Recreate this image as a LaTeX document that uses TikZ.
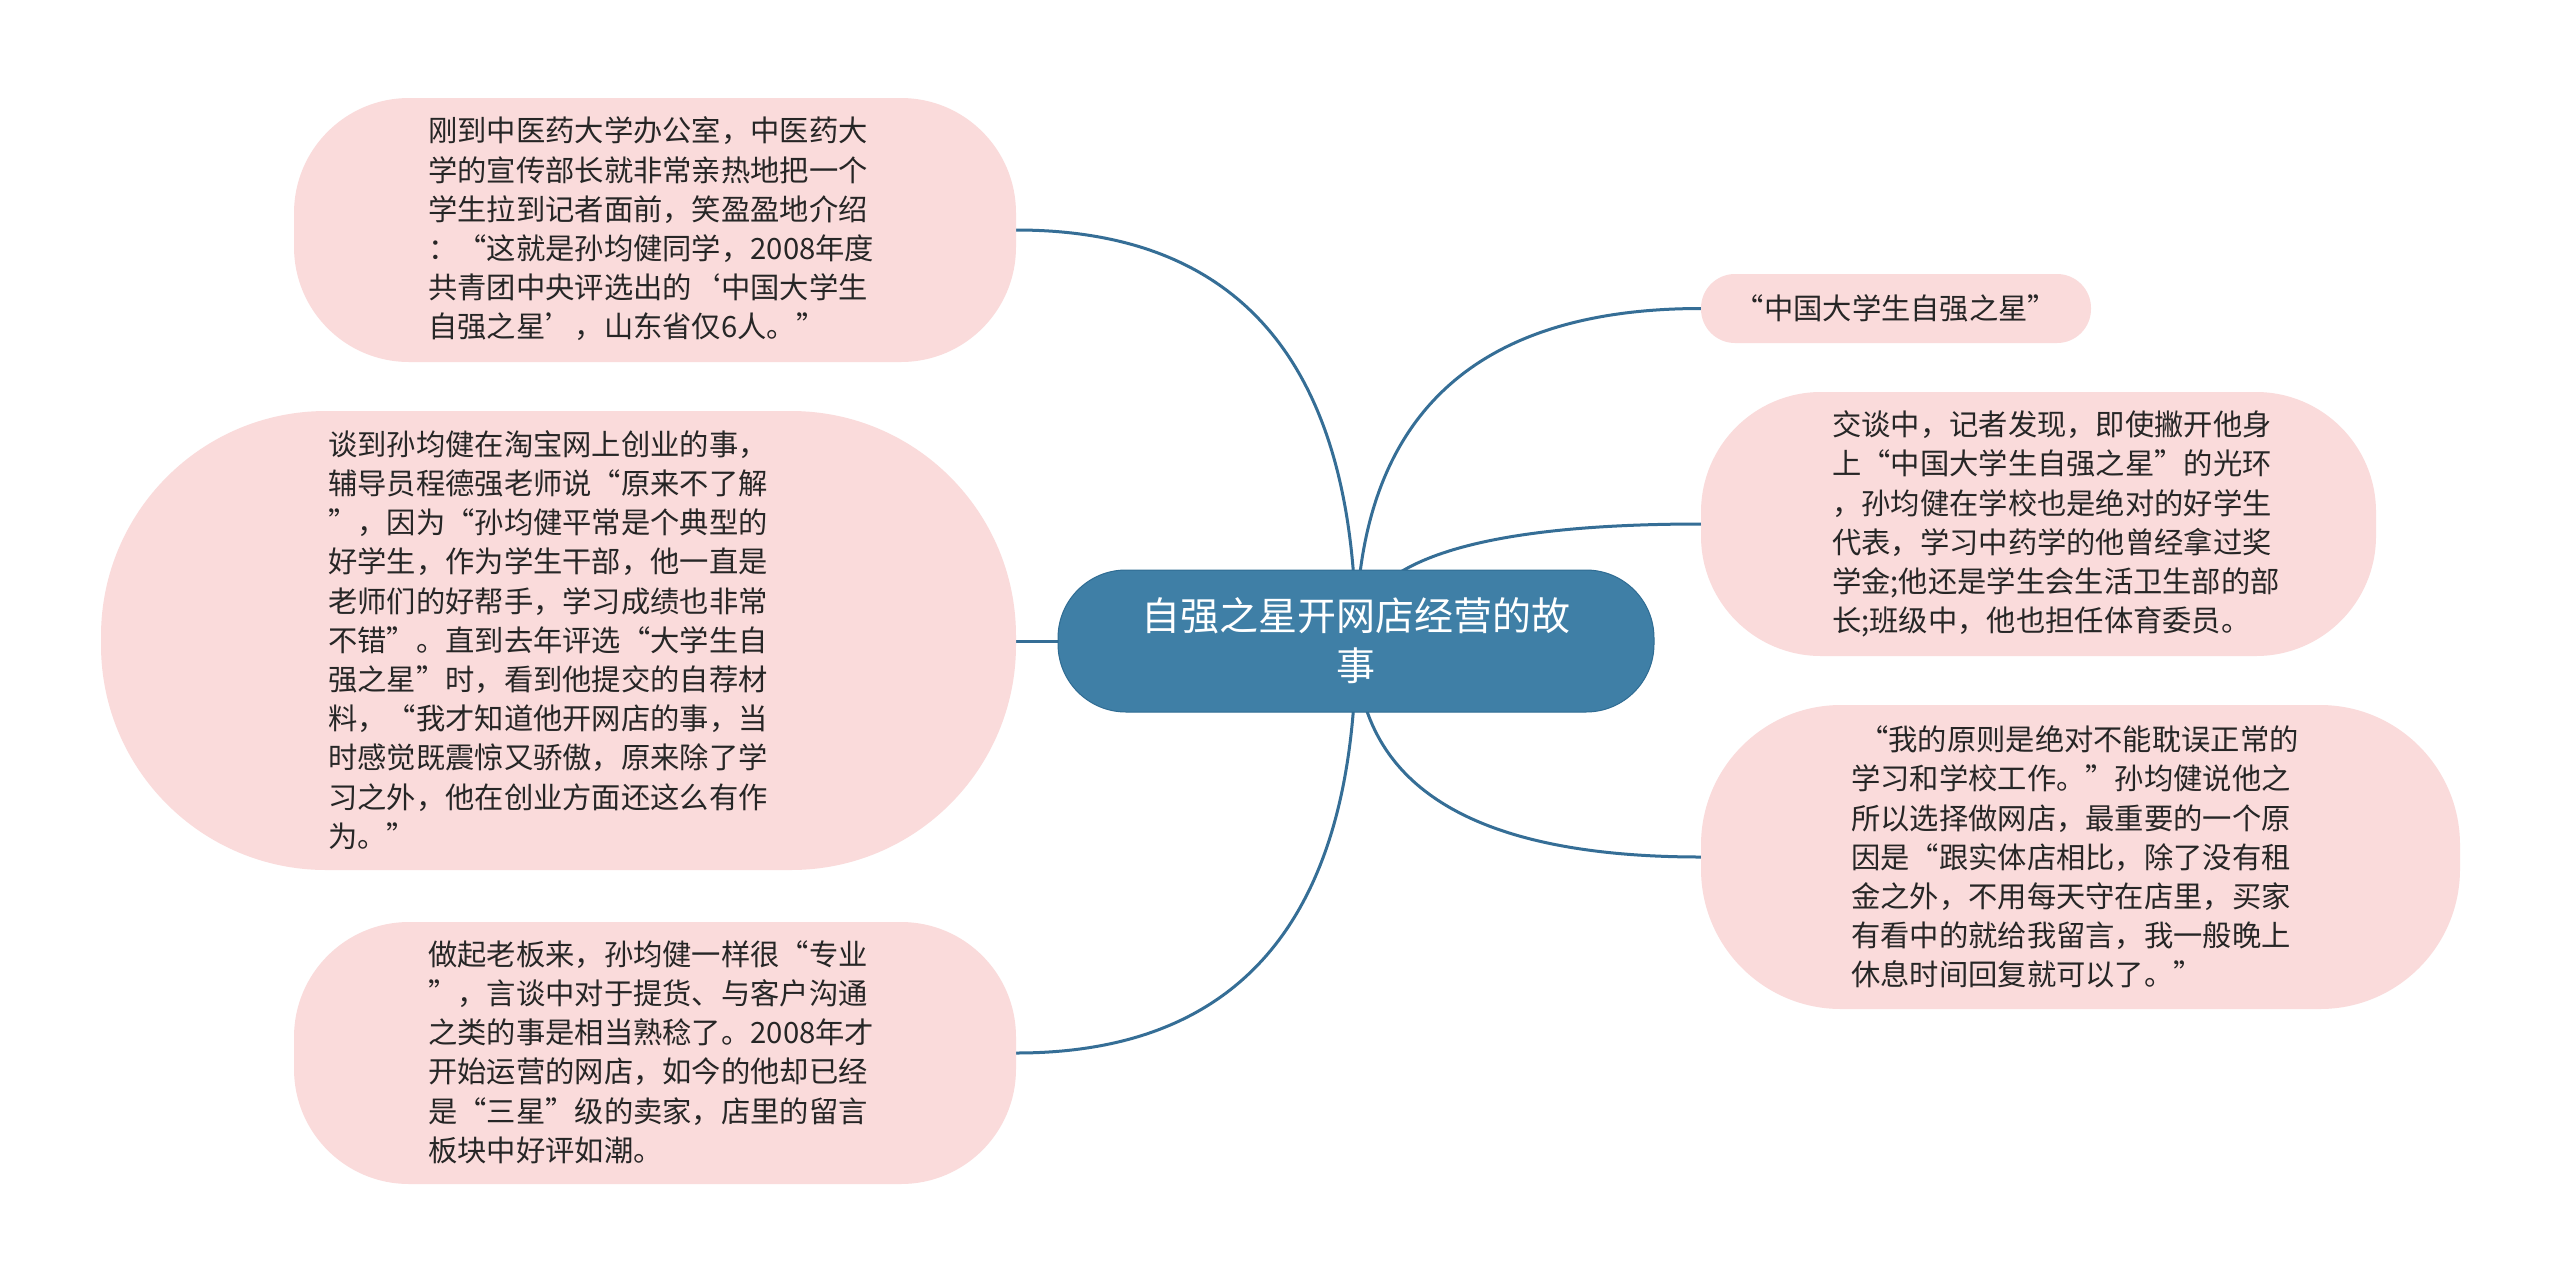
\documentclass[tikz,border=0pt]{standalone}
\usepackage{fontspec}
\newfontfamily\cjk{Noto Sans CJK SC}
\usetikzlibrary{calc}
\pgfdeclarelayer{bg}
\pgfdeclarelayer{paper}
\pgfsetlayers{paper,bg,main}
\definecolor{pinkfill}{HTML}{FADBDB}
\definecolor{centerfill}{HTML}{3F7FA6}
\definecolor{centerline}{HTML}{2F6C93}
\definecolor{connline}{HTML}{356E96}
\definecolor{txt}{HTML}{262626}
\begin{document}
\begin{tikzpicture}[x=1pt,y=-1pt,
  pinkbox/.style={fill=pinkfill, draw=none, inner sep=0pt},
  bodytext/.style={font=\cjk\fontsize{29.3pt}{39.2pt}\selectfont, text=txt, align=left, inner sep=0pt, anchor=west},
  conn/.style={draw=connline, line width=3pt},
]
\begin{pgfonlayer}{paper}
\fill[white] (0,0) rectangle (2560,1283);
\end{pgfonlayer}
\useasboundingbox (0,0) rectangle (2560,1283);

% left boxes
\node[pinkbox, rounded corners=115pt, minimum width=722pt, minimum height=264pt] (b1) at (655,230) {};
\node[bodytext] (t1) at (428,229) {刚到中医药大学办公室，中医药大\\学的宣传部长就非常亲热地把一个\\学生拉到记者面前，笑盈盈地介绍\\：“这就是孙均健同学，2008年度\\共青团中央评选出的‘中国大学生\\自强之星’，山东省仅6人。”};

\node[pinkbox, rounded corners=225pt, minimum width=915pt, minimum height=459pt] (b2) at (558.5,640.5) {};
\node[bodytext] (t2) at (328,640) {谈到孙均健在淘宝网上创业的事，\\辅导员程德强老师说“原来不了解\\”，因为“孙均健平常是个典型的\\好学生，作为学生干部，他一直是\\老师们的好帮手，学习成绩也非常\\不错”。直到去年评选“大学生自\\强之星”时，看到他提交的自荐材\\料，“我才知道他开网店的事，当\\时感觉既震惊又骄傲，原来除了学\\习之外，他在创业方面还这么有作\\为。”};

\node[pinkbox, rounded corners=115pt, minimum width=722pt, minimum height=262pt] (b3) at (655,1053) {};
\node[bodytext] (t3) at (428,1052) {做起老板来，孙均健一样很“专业\\”，言谈中对于提货、与客户沟通\\之类的事是相当熟稔了。2008年才\\开始运营的网店，如今的他却已经\\是“三星”级的卖家，店里的留言\\板块中好评如潮。};

% center
\node[fill=centerfill, draw=centerline, line width=1pt, rounded corners=68pt, minimum width=596pt, minimum height=142pt, text=white, font=\cjk\fontsize{39pt}{50pt}\selectfont, align=center, inner sep=0pt] (c) at (1356,641) {自强之星开网店经营的故\\事};

% right boxes
\node[pinkbox, rounded corners=34pt, minimum width=390pt, minimum height=69pt, font=\cjk\fontsize{29.3pt}{39.2pt}\selectfont, text=txt] (bA) at (1896,308.5) {“中国大学生自强之星”};

\node[pinkbox, rounded corners=120pt, minimum width=675pt, minimum height=264pt] (bB) at (2038.5,524) {};
\node[bodytext] (tB) at (1832,524) {交谈中，记者发现，即使撇开他身\\上“中国大学生自强之星”的光环\\，孙均健在学校也是绝对的好学生\\代表，学习中药学的他曾经拿过奖\\学金;他还是学生会生活卫生部的部\\长;班级中，他也担任体育委员。};

\node[pinkbox, rounded corners=140pt, minimum width=759pt, minimum height=304pt] (bC) at (2080.5,857) {};
\node[bodytext] (tC) at (1851,857) {\hspace*{8pt}“我的原则是绝对不能耽误正常的\\学习和学校工作。”孙均健说他之\\所以选择做网店，最重要的一个原\\因是“跟实体店相比，除了没有租\\金之外，不用每天守在店里，买家\\有看中的就给我留言，我一般晚上\\休息时间回复就可以了。”};

% connectors
\begin{pgfonlayer}{bg}
\coordinate (k1) at (c.center |- b1.east);
\coordinate (k3) at (c.center |- b3.east);
\coordinate (kA) at (c.center |- bA.west);
\coordinate (kB) at (c.center |- bB.west);
\coordinate (kC) at (c.center |- bC.west);
\draw[conn] (c.center) .. controls ($(c.center)!0.6667!(k1)$) and ($(b1.east)!0.6667!(k1)$) .. (b1.east);
\draw[conn] (c.center) -- (c.center -| b2.east);
\draw[conn] (c.center) .. controls ($(c.center)!0.6667!(k3)$) and ($(b3.east)!0.6667!(k3)$) .. (b3.east);
\draw[conn] (c.center) .. controls ($(c.center)!0.6667!(kA)$) and ($(bA.west)!0.6667!(kA)$) .. (bA.west);
\draw[conn] (c.center) .. controls ($(c.center)!0.6667!(kB)$) and ($(bB.west)!0.6667!(kB)$) .. (bB.west);
\draw[conn] (c.center) .. controls ($(c.center)!0.6667!(kC)$) and ($(bC.west)!0.6667!(kC)$) .. (bC.west);
\end{pgfonlayer}
\end{tikzpicture}
\end{document}
